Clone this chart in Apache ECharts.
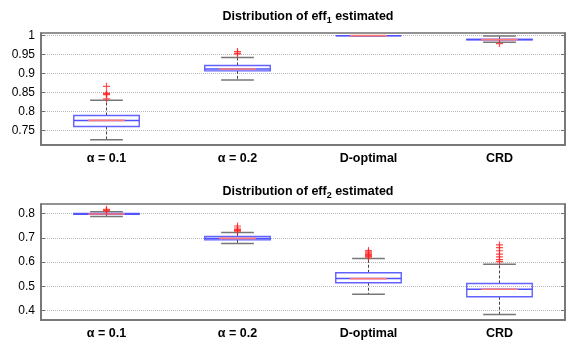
<!DOCTYPE html>
<html>
<head>
<meta charset="utf-8">
<script src="https://cdn.jsdelivr.net/npm/echarts@6/dist/echarts.min.js"></script>
<style>
  html, body { margin: 0; padding: 0; background: #fff; }
  #chart { width: 567px; height: 341px; }
</style>
</head>
<body>
<div id="chart"></div>
<script>
// categories on the x axis
const categories = ['α = 0.1', 'α = 0.2', 'D-optimal', 'CRD'];

// eff1: [lower whisker, q1, median, q3, upper whisker]
const eff1Boxes = [
  [0.725, 0.760, 0.776, 0.789, 0.829],
  [0.883, 0.907, 0.912, 0.921, 0.942],
  [1.000, 1.000, 1.000, 1.000, 1.000],
  [0.9826, 0.989, 0.9895, 0.990, 0.999]
];
const eff1Outliers = [
  [0.833, 0.844, 0.846, 0.848, 0.866],
  [0.952, 0.954, 0.958],
  [],
  [0.979]
];
const eff1Ticks = [0.75, 0.8, 0.85, 0.9, 0.95, 1];

// eff2
const eff2Boxes = [
  [0.788, 0.7975, 0.799, 0.8005, 0.808],
  [0.677, 0.692, 0.698, 0.706, 0.722],
  [0.467, 0.515, 0.532, 0.556, 0.6145],
  [0.384, 0.457, 0.488, 0.512, 0.591]
];
const eff2Outliers = [
  [0.811, 0.813, 0.818],
  [0.728, 0.731, 0.734, 0.741, 0.749],
  [0.620, 0.624, 0.628, 0.632, 0.637, 0.642, 0.648],
  [0.602, 0.610, 0.622, 0.633, 0.647, 0.660, 0.671]
];
const eff2Ticks = [0.4, 0.5, 0.6, 0.7, 0.8];

const FONT = 'Liberation Sans';
const plusPath = 'path://M5,0h2v5h5v2h-5v5h-2v-5h-5v-2h5z';

function renderBox(params, api) {
  const idx = api.value(0);
  const lo = api.value(1), q1 = api.value(2), med = api.value(3), q3 = api.value(4), hi = api.value(5);
  const w = api.size([1, 0])[0] * 0.5;
  const cx = api.coord([idx, med])[0];
  const y = v => api.coord([idx, v])[1];
  const half = w / 2, capHalf = w / 4, redHalf = w * 0.28;
  const dashed = { stroke: '#444', lineWidth: 1, lineDash: [3, 2] };
  const cap = { stroke: '#777', lineWidth: 1.5 };
  return {
    type: 'group',
    children: [
      { type: 'line', shape: { x1: cx, y1: y(q3), x2: cx, y2: y(hi) }, style: dashed },
      { type: 'line', shape: { x1: cx, y1: y(q1), x2: cx, y2: y(lo) }, style: dashed },
      { type: 'line', shape: { x1: cx - capHalf, y1: y(hi), x2: cx + capHalf, y2: y(hi) }, style: cap },
      { type: 'line', shape: { x1: cx - capHalf, y1: y(lo), x2: cx + capHalf, y2: y(lo) }, style: cap },
      { type: 'rect', shape: { x: cx - half, y: y(q3), width: w, height: y(q1) - y(q3) },
        style: { fill: 'rgba(255,255,255,0)', stroke: '#6262ff', lineWidth: 1.4 } },
      { type: 'line', shape: { x1: cx - half, y1: y(med), x2: cx + half, y2: y(med) },
        style: { stroke: '#5050ff', lineWidth: 1.5 } },
      { type: 'line', shape: { x1: cx - redHalf, y1: y(med), x2: cx + redHalf, y2: y(med) },
        style: { stroke: '#ff7878', lineWidth: 1.6 } }
    ]
  };
}

function boxData(boxes) {
  return boxes.map((b, i) => [i].concat(b));
}
function outlierData(outs) {
  const res = [];
  outs.forEach((list, i) => list.forEach(v => res.push([i, v])));
  return res;
}

function yAxes(grid, min, max, ticks) {
  const base = {
    type: 'value', gridIndex: grid, min: min, max: max,
    axisLine: { show: true, lineStyle: { color: '#707070', width: 1.5 } },
    axisTick: { show: true, inside: true, length: 4, customValues: ticks, lineStyle: { color: '#707070' } }
  };
  return [
    Object.assign({}, base, {
      position: 'left',
      axisLabel: { customValues: ticks, color: '#000', fontFamily: FONT, fontSize: 12, margin: 6 },
      splitLine: { show: true, lineStyle: { color: '#b8b8b8', type: 'dotted', width: 1 } }
    }),
    Object.assign({}, base, {
      position: 'right',
      axisLabel: { show: false },
      splitLine: { show: false }
    })
  ];
}

function xAxis(grid) {
  return {
    type: 'category', gridIndex: grid, data: categories,
    axisLine: { show: true, onZero: false, lineStyle: { color: '#707070', width: 1.5 } },
    axisTick: { show: false },
    axisLabel: { color: '#000', fontFamily: FONT, fontWeight: 'bold', fontSize: 12.5, margin: 7 },
    splitLine: { show: false }
  };
}

function titleOf(sub, top) {
  return {
    text: '{a|Distribution of eff}{s|' + sub + '}{a| estimated}',
    left: 303, top: top, textAlign: 'center',
    textStyle: {
      rich: {
        a: { fontFamily: FONT, fontWeight: 'bold', fontSize: 12.5, color: '#000', lineHeight: 16 },
        s: { fontFamily: FONT, fontWeight: 'bold', fontSize: 9, color: '#000', lineHeight: 16, padding: [7, 0, 0, 0] }
      }
    }
  };
}

const chart = echarts.init(document.getElementById('chart'), null, { renderer: 'canvas' });
chart.setOption({
  backgroundColor: '#fff',
  animation: false,
  title: [titleOf('1', 4), titleOf('2', 179)],
  grid: [
    { left: 41, right: 2, top: 33, height: 112, show: true, borderColor: '#707070', borderWidth: 1.5 },
    { left: 41, right: 2, top: 204, height: 116, show: true, borderColor: '#707070', borderWidth: 1.5 }
  ],
  xAxis: [xAxis(0), xAxis(1)],
  yAxis: yAxes(0, 0.711, 1.007, eff1Ticks).concat(yAxes(1, 0.361, 0.840, eff2Ticks)),
  series: [
    { type: 'custom', xAxisIndex: 0, yAxisIndex: 0, renderItem: renderBox,
      encode: { x: 0, y: [1, 2, 3, 4, 5] }, data: boxData(eff1Boxes), z: 3 },
    { type: 'scatter', xAxisIndex: 0, yAxisIndex: 0, symbol: plusPath, symbolSize: 7,
      itemStyle: { color: '#ff2020' }, data: outlierData(eff1Outliers), z: 4 },
    { type: 'custom', xAxisIndex: 1, yAxisIndex: 2, renderItem: renderBox,
      encode: { x: 0, y: [1, 2, 3, 4, 5] }, data: boxData(eff2Boxes), z: 3 },
    { type: 'scatter', xAxisIndex: 1, yAxisIndex: 2, symbol: plusPath, symbolSize: 7,
      itemStyle: { color: '#ff2020' }, data: outlierData(eff2Outliers), z: 4 }
  ]
});
</script>
</body>
</html>
